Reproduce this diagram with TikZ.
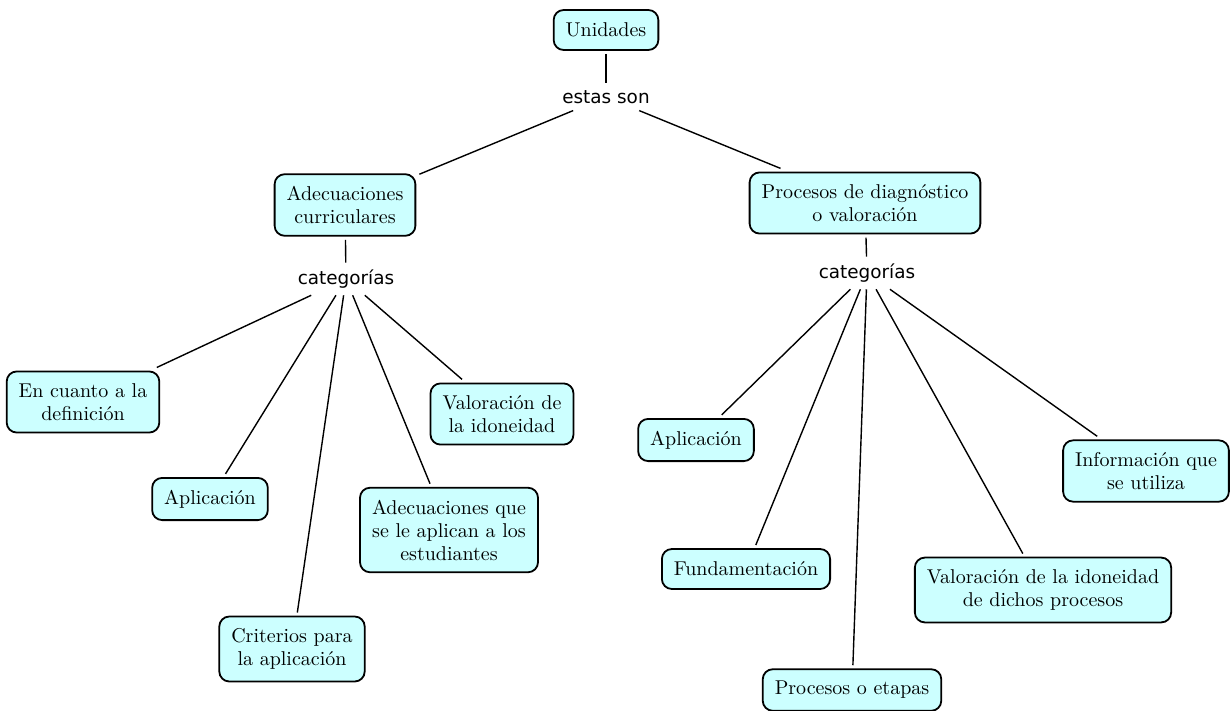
\documentclass[tikz,border=0pt]{standalone}
\usepackage{fontspec}
\newfontfamily\linkfont{DejaVu Sans}
\usetikzlibrary{positioning}
\definecolor{conceptfill}{RGB}{204,255,255}

\begin{document}
\begin{tikzpicture}[x=0.5pt,y=-0.5pt,
  concept/.style={draw,rounded corners=5pt,fill=conceptfill,line width=0.9pt,align=center,
    font=\fontsize{10}{11.5}\selectfont,inner xsep=6pt,inner ysep=6pt,minimum height=20pt,outer sep=2pt},
  linkword/.style={font=\linkfont\fontsize{9.2}{11}\selectfont,inner sep=1pt,outer sep=2.5pt},
  link/.style={line width=0.7pt}]
\useasboundingbox (0,0) rectangle (1230,711);
% top
\node[concept] (unid) at (606,30) {Unidades};
\node[linkword] (son) at (606,97) {estas son};
\node[concept] (adec) at (345,205) {Adecuaciones\\curriculares};
\node[concept] (proc) at (865,203) {Procesos de diagnóstico\\o valoración};
\node[linkword] (catA) at (346,279) {categorías};
\node[linkword] (catP) at (867,273) {categorías};
% left branch
\node[concept] (defin) at (83,402) {En cuanto a la\\definición};
\node[concept] (aplA) at (210,499) {Aplicación};
\node[concept] (crit) at (292,649) {Criterios para\\la aplicación};
\node[concept] (estud) at (449,530) {Adecuaciones que\\se le aplican a los\\estudiantes};
\node[concept] (idon) at (502,414) {Valoración de\\la idoneidad};
% right branch
\node[concept] (aplP) at (696,440) {Aplicación};
\node[concept] (fund) at (746,569) {Fundamentación};
\node[concept] (etap) at (852,690) {Procesos o etapas};
\node[concept] (dich) at (1043,590) {Valoración de la idoneidad\\de dichos procesos};
\node[concept] (info) at (1146,471) {Información que\\se utiliza};
% links
\draw[link] (unid) -- (son);
\draw[link] (son) -- (adec);
\draw[link] (son) -- (proc);
\draw[link] (adec) -- (catA);
\draw[link] (proc) -- (catP);
\foreach \n in {defin,aplA,crit,estud,idon}
  \draw[link] (catA) -- (\n);
\foreach \n in {aplP,fund,etap,dich,info}
  \draw[link] (catP) -- (\n);
\end{tikzpicture}
\end{document}
